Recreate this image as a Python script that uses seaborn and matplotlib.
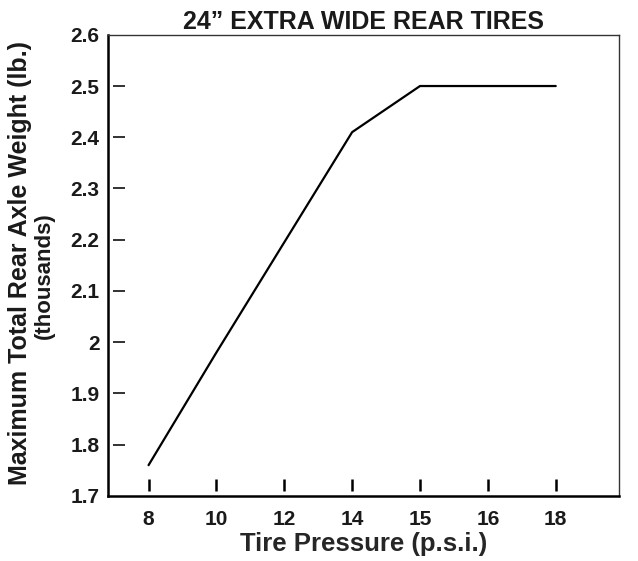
import numpy as np
import pandas as pd
import matplotlib as mpl
import matplotlib.pyplot as plt
from matplotlib.path import Path
from matplotlib.markers import MarkerStyle
import seaborn as sns

# data
pressure = ["8", "10", "12", "14", "15", "16", "18"]
weight = [1.76, 1.98, 2.195, 2.41, 2.5, 2.5, 2.5]
y_ticks = [1.7, 1.8, 1.9, 2.0, 2.1, 2.2, 2.3, 2.4, 2.5, 2.6]
y_labels = ["1.7", "1.8", "1.9", "2", "2.1", "2.2", "2.3", "2.4", "2.5", "2.6"]

sns.set_style("white")
plt.rcParams['font.family'] = ['Liberation Sans', 'DejaVu Sans']
plt.rcParams['font.weight'] = 'bold'
plt.rcParams['text.color'] = '#1a1a1a'

fig = plt.figure(figsize=(6.38, 5.61), dpi=100)
ax = fig.add_axes([0.169, 0.116, 0.801, 0.822])

df = pd.DataFrame({"pos": np.arange(len(pressure)), "weight": weight})
sns.lineplot(data=df, x="pos", y="weight", color="black", linewidth=1.6, ax=ax)

ax.set_xlim(-0.6, 6.93)
ax.set_ylim(1.7, 2.6)
ax.set_xticks(np.arange(len(pressure)))
ax.set_xticklabels(pressure, fontsize=15, fontweight="bold")
ax.set_yticks(y_ticks)
ax.set_yticklabels(y_labels, fontsize=15, fontweight="bold")
ax.tick_params(axis="x", direction="in", pad=10, colors="#1a1a1a",
               bottom=True, top=False, length=10, width=1.8)
ax.tick_params(axis="y", direction="in", pad=6, colors="#1a1a1a",
               left=True, right=False, length=10, width=1.5)

# inward tick marks that stop short of the spine
ymark = MarkerStyle(Path([(0.3, 0), (1, 0)]))
xmark = MarkerStyle(Path([(0, 0.3), (0, 1)]))
yt = ax.yaxis.get_major_ticks()
for t in yt:
    t.tick1line.set_marker(ymark)
    t.tick1line.set_markersize(24)
    t.tick1line.set_markeredgewidth(1.3)
    t.tick1line.set_markeredgecolor("#222222")
yt[0].tick1line.set_visible(False)
yt[-1].tick1line.set_visible(False)
for t in ax.xaxis.get_major_ticks():
    t.tick1line.set_marker(xmark)
    t.tick1line.set_markersize(24)
    t.tick1line.set_markeredgewidth(1.8)
    t.tick1line.set_markeredgecolor("black")

for side in ["left", "bottom"]:
    ax.spines[side].set_linewidth(1.8)
    ax.spines[side].set_color("black")
for side in ["top", "right"]:
    ax.spines[side].set_linewidth(1.0)
    ax.spines[side].set_color("#333333")

ax.set_xlabel("Tire Pressure (p.s.i.)", fontsize=18.5, fontweight="bold", labelpad=2)
ax.set_ylabel("")
ax.set_title("24\u201d EXTRA WIDE REAR TIRES", fontsize=18, fontweight="bold", pad=4)

fig.text(0.032, 0.531, "Maximum Total Rear Axle Weight (lb.)", rotation=90,
         ha="center", va="center", fontsize=18, fontweight="bold")
fig.text(0.069, 0.508, "(thousands)", rotation=90,
         ha="center", va="center", fontsize=16, fontweight="bold")

fig.savefig("out.png", dpi=100)
